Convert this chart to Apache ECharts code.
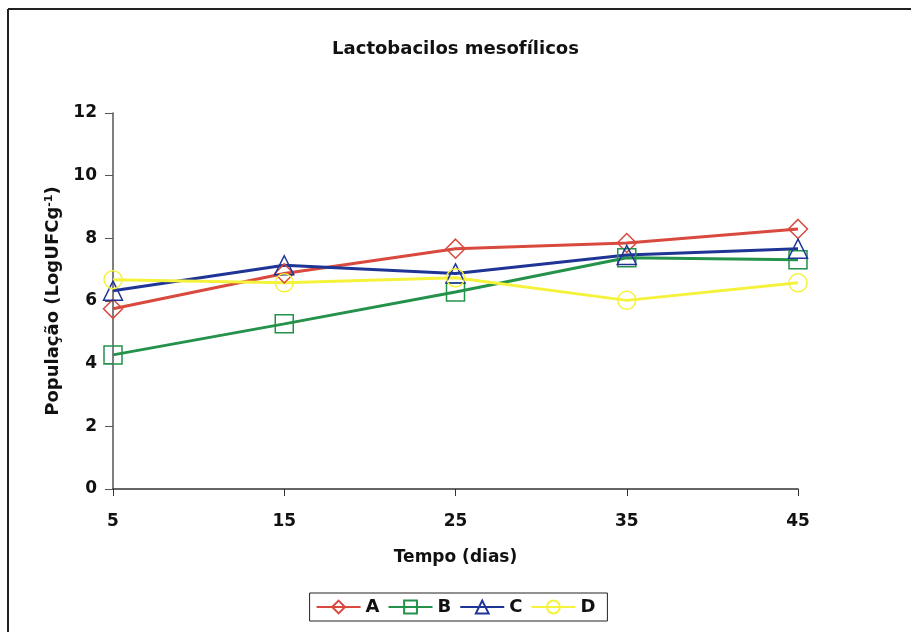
<!DOCTYPE html>
<html><head><meta charset="utf-8">
<script src="https://cdn.jsdelivr.net/npm/echarts@6/dist/echarts.min.js"></script>
<style>html,body{margin:0;padding:0;background:#fff}#c{width:911px;height:632px}</style>
</head><body><div id="c"></div>
<script>
const categories = ['5','15','25','35','45'];
const seriesA = [5.75, 6.88, 7.67, 7.85, 8.3];
const seriesB = [4.28, 5.27, 6.29, 7.38, 7.32];
const seriesC = [6.33, 7.14, 6.88, 7.47, 7.67];
const seriesD = [6.68, 6.58, 6.74, 6.02, 6.58];
const yTicks = [0, 2, 4, 6, 8, 10, 12];

const font = 'DejaVu Sans';
const chart = echarts.init(document.getElementById('c'));
function mk(name, data, color, symbol, size) {
  return {
    name, type: 'line', data, symbol, symbolSize: size, showSymbol: true,
    lineStyle: { color, width: 3 },
    itemStyle: { color: 'rgba(255,255,255,0)', borderColor: color, borderWidth: 1.5 },
    emphasis: { disabled: true }, animation: false
  };
}
chart.setOption({
  animation: false,
  backgroundColor: '#fff',
  title: {
    text: 'Lactobacilos mesofílicos', left: 'center', top: 35,
    textStyle: { fontFamily: font, fontWeight: 'bold', fontSize: 18, color: '#111' }
  },
  grid: { left: 113, right: 113, top: 113, bottom: 143 },
  legend: {
    bottom: 11, left: 'center',
    data: ['A', 'B', 'C', 'D'],
    itemWidth: 44, itemHeight: 16, itemGap: 8,
    padding: [5, 12, 5, 6],
    borderColor: '#222', borderWidth: 1, borderRadius: 0,
    textStyle: { fontFamily: font, fontWeight: 'bold', fontSize: 18, color: '#111' }
  },
  xAxis: {
    type: 'category', data: categories, boundaryGap: false,
    name: 'Tempo (dias)', nameLocation: 'middle', nameGap: 60,
    nameTextStyle: { fontFamily: font, fontWeight: 'bold', fontSize: 17, color: '#111' },
    axisLine: { lineStyle: { color: '#333', width: 1.5 } },
    axisTick: { show: true, length: 7, alignWithLabel: true, lineStyle: { color: '#333' } },
    axisLabel: { fontFamily: font, fontWeight: 'bold', fontSize: 17, color: '#111', margin: 24 },
    splitLine: { show: false }
  },
  yAxis: {
    type: 'value', min: yTicks[0], max: yTicks[yTicks.length - 1], interval: 2,
    name: 'População (LogUFCg{sup|-1})', nameLocation: 'middle', nameGap: 49,
    nameTextStyle: { fontFamily: font, fontWeight: 'bold', fontSize: 18, color: '#111',
      rich: { sup: { fontFamily: font, fontWeight: 'bold', fontSize: 11, color: '#111', verticalAlign: 'top', padding: [0, 0, 9, 0] } } },
    axisLine: { show: true, lineStyle: { color: '#555', width: 1.5 } },
    axisTick: { show: true, length: 8, lineStyle: { color: '#555' } },
    axisLabel: { fontFamily: font, fontWeight: 'bold', fontSize: 17, color: '#111', margin: 16 },
    splitLine: { show: false }
  },
  graphic: [
    { type: 'line', shape: { x1: 8, y1: 9, x2: 911, y2: 9 }, style: { stroke: '#222', lineWidth: 2 } },
    { type: 'line', shape: { x1: 8, y1: 9, x2: 8, y2: 632 }, style: { stroke: '#222', lineWidth: 2 } }
  ],
  series: [
    mk('A', seriesA, '#d9493e', 'diamond', 19),
    mk('B', seriesB, '#24924a', 'rect', 18),
    mk('C', seriesC, '#1f3596', 'triangle', 19),
    mk('D', seriesD, '#f5f23c', 'circle', 18)
  ]
});
</script></body></html>
